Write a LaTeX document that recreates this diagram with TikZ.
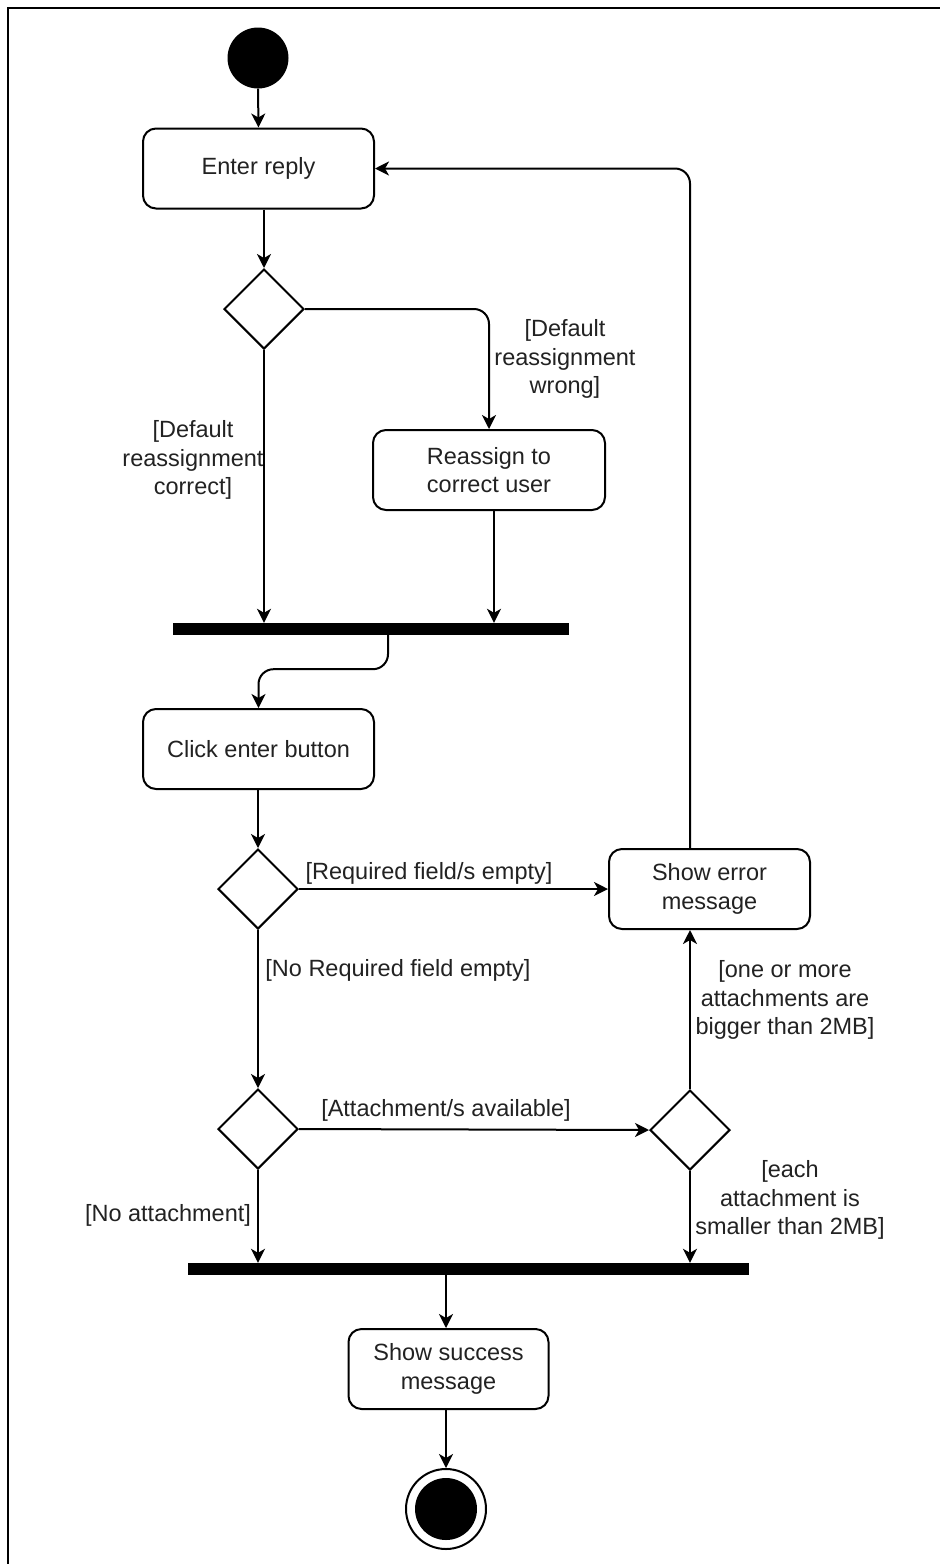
\documentclass[tikz,border=0pt]{standalone}
\usepackage{fontspec}
\setmainfont{Liberation Sans}
\usetikzlibrary{shapes.geometric,arrows.meta}
\definecolor{ink}{RGB}{34,34,34}
\begin{document}
\begin{tikzpicture}[x=1pt,y=-1pt,
  every node/.style={font=\fontsize{23.5}{28.2}\selectfont, text=ink},
  action/.style={draw, line width=2pt, rounded corners=13pt, align=center,
    minimum height=80pt, inner sep=0pt},
  decision/.style={draw, diamond, line width=2pt, minimum width=80pt,
    minimum height=80pt, inner sep=0pt},
  forkbar/.style={fill=black, rectangle, minimum height=12pt, inner sep=0pt},
  guard/.style={align=center, inner sep=0pt},
  flow/.style={line width=2pt, -{Stealth[length=14pt,width=14pt,inset=4pt]}},
]
\useasboundingbox (0,0) rectangle (940,1564);
\fill[white] (0,0) rectangle (940,1564);
% outer frame
\draw[line width=2.5pt] (8,1570) -- (8,8) -- (946,8);

% nodes
\node[circle, fill=black, minimum size=61pt, inner sep=0pt] (start) at (258,58) {};
\node[action, minimum width=231pt] (enter) at (258.5,168.5) {Enter reply};
\node[decision] (d1) at (264,309) {};
\node[action, minimum width=232pt] (reassign) at (489,470) {Reassign to\\correct user};
\node[forkbar, minimum width=396pt] (bar1) at (371,629) {};
\node[action, minimum width=231pt] (click) at (258.5,749) {Click enter button};
\node[decision] (d2) at (258,889) {};
\node[action, minimum width=201pt] (error) at (709.5,889) {Show error\\message};
\node[decision] (d3) at (258,1129) {};
\node[decision] (d4) at (690,1130) {};
\node[forkbar, minimum width=561pt] (bar2) at (468.5,1269) {};
\node[action, minimum width=200pt] (success) at (448.5,1369) {Show success\\message};
\node[circle, draw, line width=2pt, minimum size=80pt, inner sep=0pt] (end) at (446,1509) {};
\node[circle, fill=black, minimum size=62pt, inner sep=0pt] (endcore) at (end.center) {};

% guard labels
\node[guard] (gwrong) at (565,359) {[Default\\reassignment\\wrong]};
\node[guard] (gcorrect) at (193,460) {[Default\\reassignment\\correct]};
\node[guard] (gempty) at (429,873) {[Required field/s empty]};
\node[guard] (gfilled) at (398,970) {[No Required field empty]};
\node[guard] (gattach) at (446,1110) {[Attachment/s available]};
\node[guard] (gnoattach) at (168,1215) {[No attachment]};
\node[guard] (gbig) at (785,1000) {[one or more\\attachments are\\bigger than 2MB]};
\node[guard] (gsmall) at (790,1200) {[each\\attachment is\\smaller than 2MB]};

% connectors
\draw[flow] (start.south) -- (enter.north);
\draw[flow] (d1.north |- enter.south) -- (d1.north);
\draw[flow] (d1.south) -- (d1.south |- bar1.north);
\draw[flow, rounded corners=15pt] (d1.east) -| (reassign.north);
\draw[flow] ([xshift=5pt]reassign.south) -- ([xshift=5pt]reassign.south |- bar1.north);
\draw[flow, rounded corners=15pt] ([xshift=17pt]bar1.south) -- ++(0,34) -| (click.north);
\draw[flow] (d2.north |- click.south) -- (d2.north);
\draw[flow] (d2.east) -- (error.west);
\draw[flow] (d2.south) -- (d3.north);
\draw[flow] (d3.east) -- (d4.west);
\draw[flow] (d3.south) -- (d3.south |- bar2.north);
\draw[flow] (d4.north) -- (d4.north |- error.south);
\draw[flow] (d4.south) -- (d4.south |- bar2.north);
\draw[flow, rounded corners=15pt] (d4.north |- error.north) |- (enter.east);
\draw[flow] (end.north |- bar2.south) -- (end.north |- success.north);
\draw[flow] (end.north |- success.south) -- (end.north);
\end{tikzpicture}
\end{document}
